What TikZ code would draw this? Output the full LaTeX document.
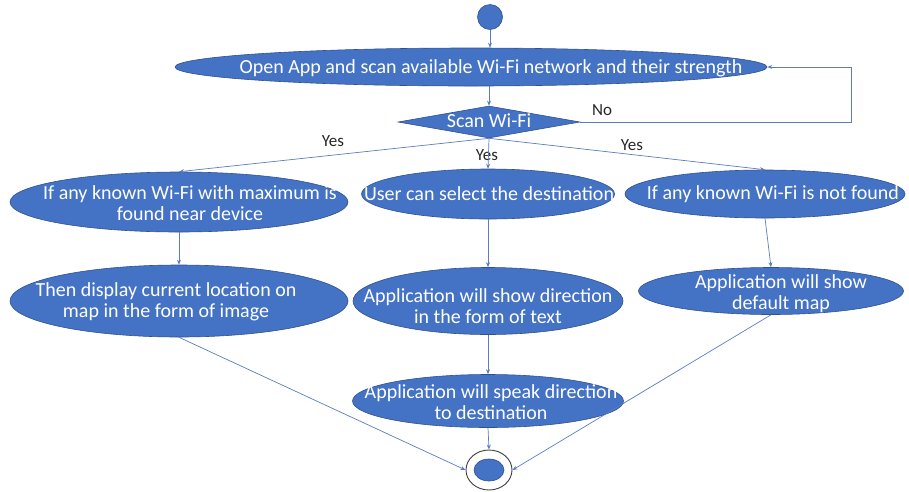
\documentclass[tikz,border=0pt]{standalone}
\usepackage{fontspec}
\setmainfont{Carlito}
\usetikzlibrary{shapes.geometric,arrows.meta}
\definecolor{nodeblue}{HTML}{4472C4}
\definecolor{edgeblue}{HTML}{2F528F}
\definecolor{linkblue}{HTML}{5B7DBD}
\begin{document}
\begin{tikzpicture}[x=1pt,y=-1pt,
  act/.style={ellipse, fill=nodeblue, draw=edgeblue, line width=0.6pt, inner sep=0pt},
  dec/.style={diamond, fill=nodeblue, draw=edgeblue, line width=0.6pt, inner sep=0pt},
  txt/.style={text=white, font=\fontsize{20}{21}\selectfont, align=center, inner sep=0pt},
  lbl/.style={text=black!85, font=\fontsize{17}{19}\selectfont, inner sep=0pt},
  link/.style={draw=linkblue, line width=0.7pt, -{Stealth[length=5pt,width=4pt]}},
]
\useasboundingbox (0,0) rectangle (909,491);
% start
\node[act, circle, minimum size=25pt] (start) at (490,17) {};
% open
\node[act, minimum width=592pt, minimum height=38pt] (open) at (471,67) {};
\node[txt] (opent) at (491,68) {Open App and scan available Wi-Fi network and their strength};
% decision
\node[dec, minimum width=182pt, minimum height=32pt] (scan) at (489,122) {};
\node[txt] (scant) at (489,121) {Scan Wi-Fi};
% row 1
\node[act, minimum width=338pt, minimum height=60pt] (l1) at (179,202) {};
\node[txt] (l1t) at (190,203) {If any known Wi-Fi with maximum is\\found near device};
\node[act, minimum width=253pt, minimum height=50pt] (m1) at (488,194) {};
\node[txt] (m1t) at (489,194) {User can select the destination};
\node[act, minimum width=280pt, minimum height=48pt] (r1) at (765,194) {};
\node[txt] (r1t) at (773,194) {If any known Wi-Fi is not found};
% row 2
\node[act, minimum width=338pt, minimum height=72pt] (l2) at (179,301) {};
\node[txt] (l2t) at (166,302) {Then display current location on\\map in the form of image};
\node[act, minimum width=270pt, minimum height=67pt] (m2) at (488,301) {};
\node[txt] (m2t) at (488,306) {Application will show direction\\in the form of text};
\node[act, minimum width=265pt, minimum height=47pt] (r2) at (771,291) {};
\node[txt] (r2t) at (781,294) {Application will show\\default map};
% row 3
\node[act, minimum width=271pt, minimum height=53pt] (m3) at (488,401) {};
\node[txt] (m3t) at (491,402) {Application will speak direction\\to destination};
% end
\node[ellipse, fill=white, draw=black!75, line width=0.9pt, minimum width=46pt, minimum height=40pt, inner sep=0pt] (endo) at (489,470) {};
\node[act, minimum width=30pt, minimum height=22pt] (endi) at (489,470) {};
% labels
\node[lbl] (no) at (602,110) {No};
\node[lbl] (yes1) at (333,141) {Yes};
\node[lbl] (yes2) at (487,155) {Yes};
\node[lbl] (yes3) at (632,145) {Yes};
% connectors
\coordinate (loop) at (851,122);
\draw[link] (start.south) -- (start.south |- open.north);
\draw[link] (scan.north |- open.south) -- (scan.north);
\draw[link] (scan.east) -- (loop) |- (open.east);
\draw[link] (scan.south) -- (l1.north);
\draw[link] (scan.south) -- (m1.north);
\draw[link] (scan.south) -- (r1.north);
\draw[link] (l1.south) -- (l2.north);
\draw[link] (m1.south) -- (m2.north);
\draw[link] (r1.south) -- (r2.north);
\draw[link] (m2.south) -- (m3.north);
\draw[link] (m3.south) -- (endo.north);
\draw[link] (l2.south) -- (endo.west);
\draw[link] (r2.south) -- (endo.east);
\end{tikzpicture}
\end{document}
